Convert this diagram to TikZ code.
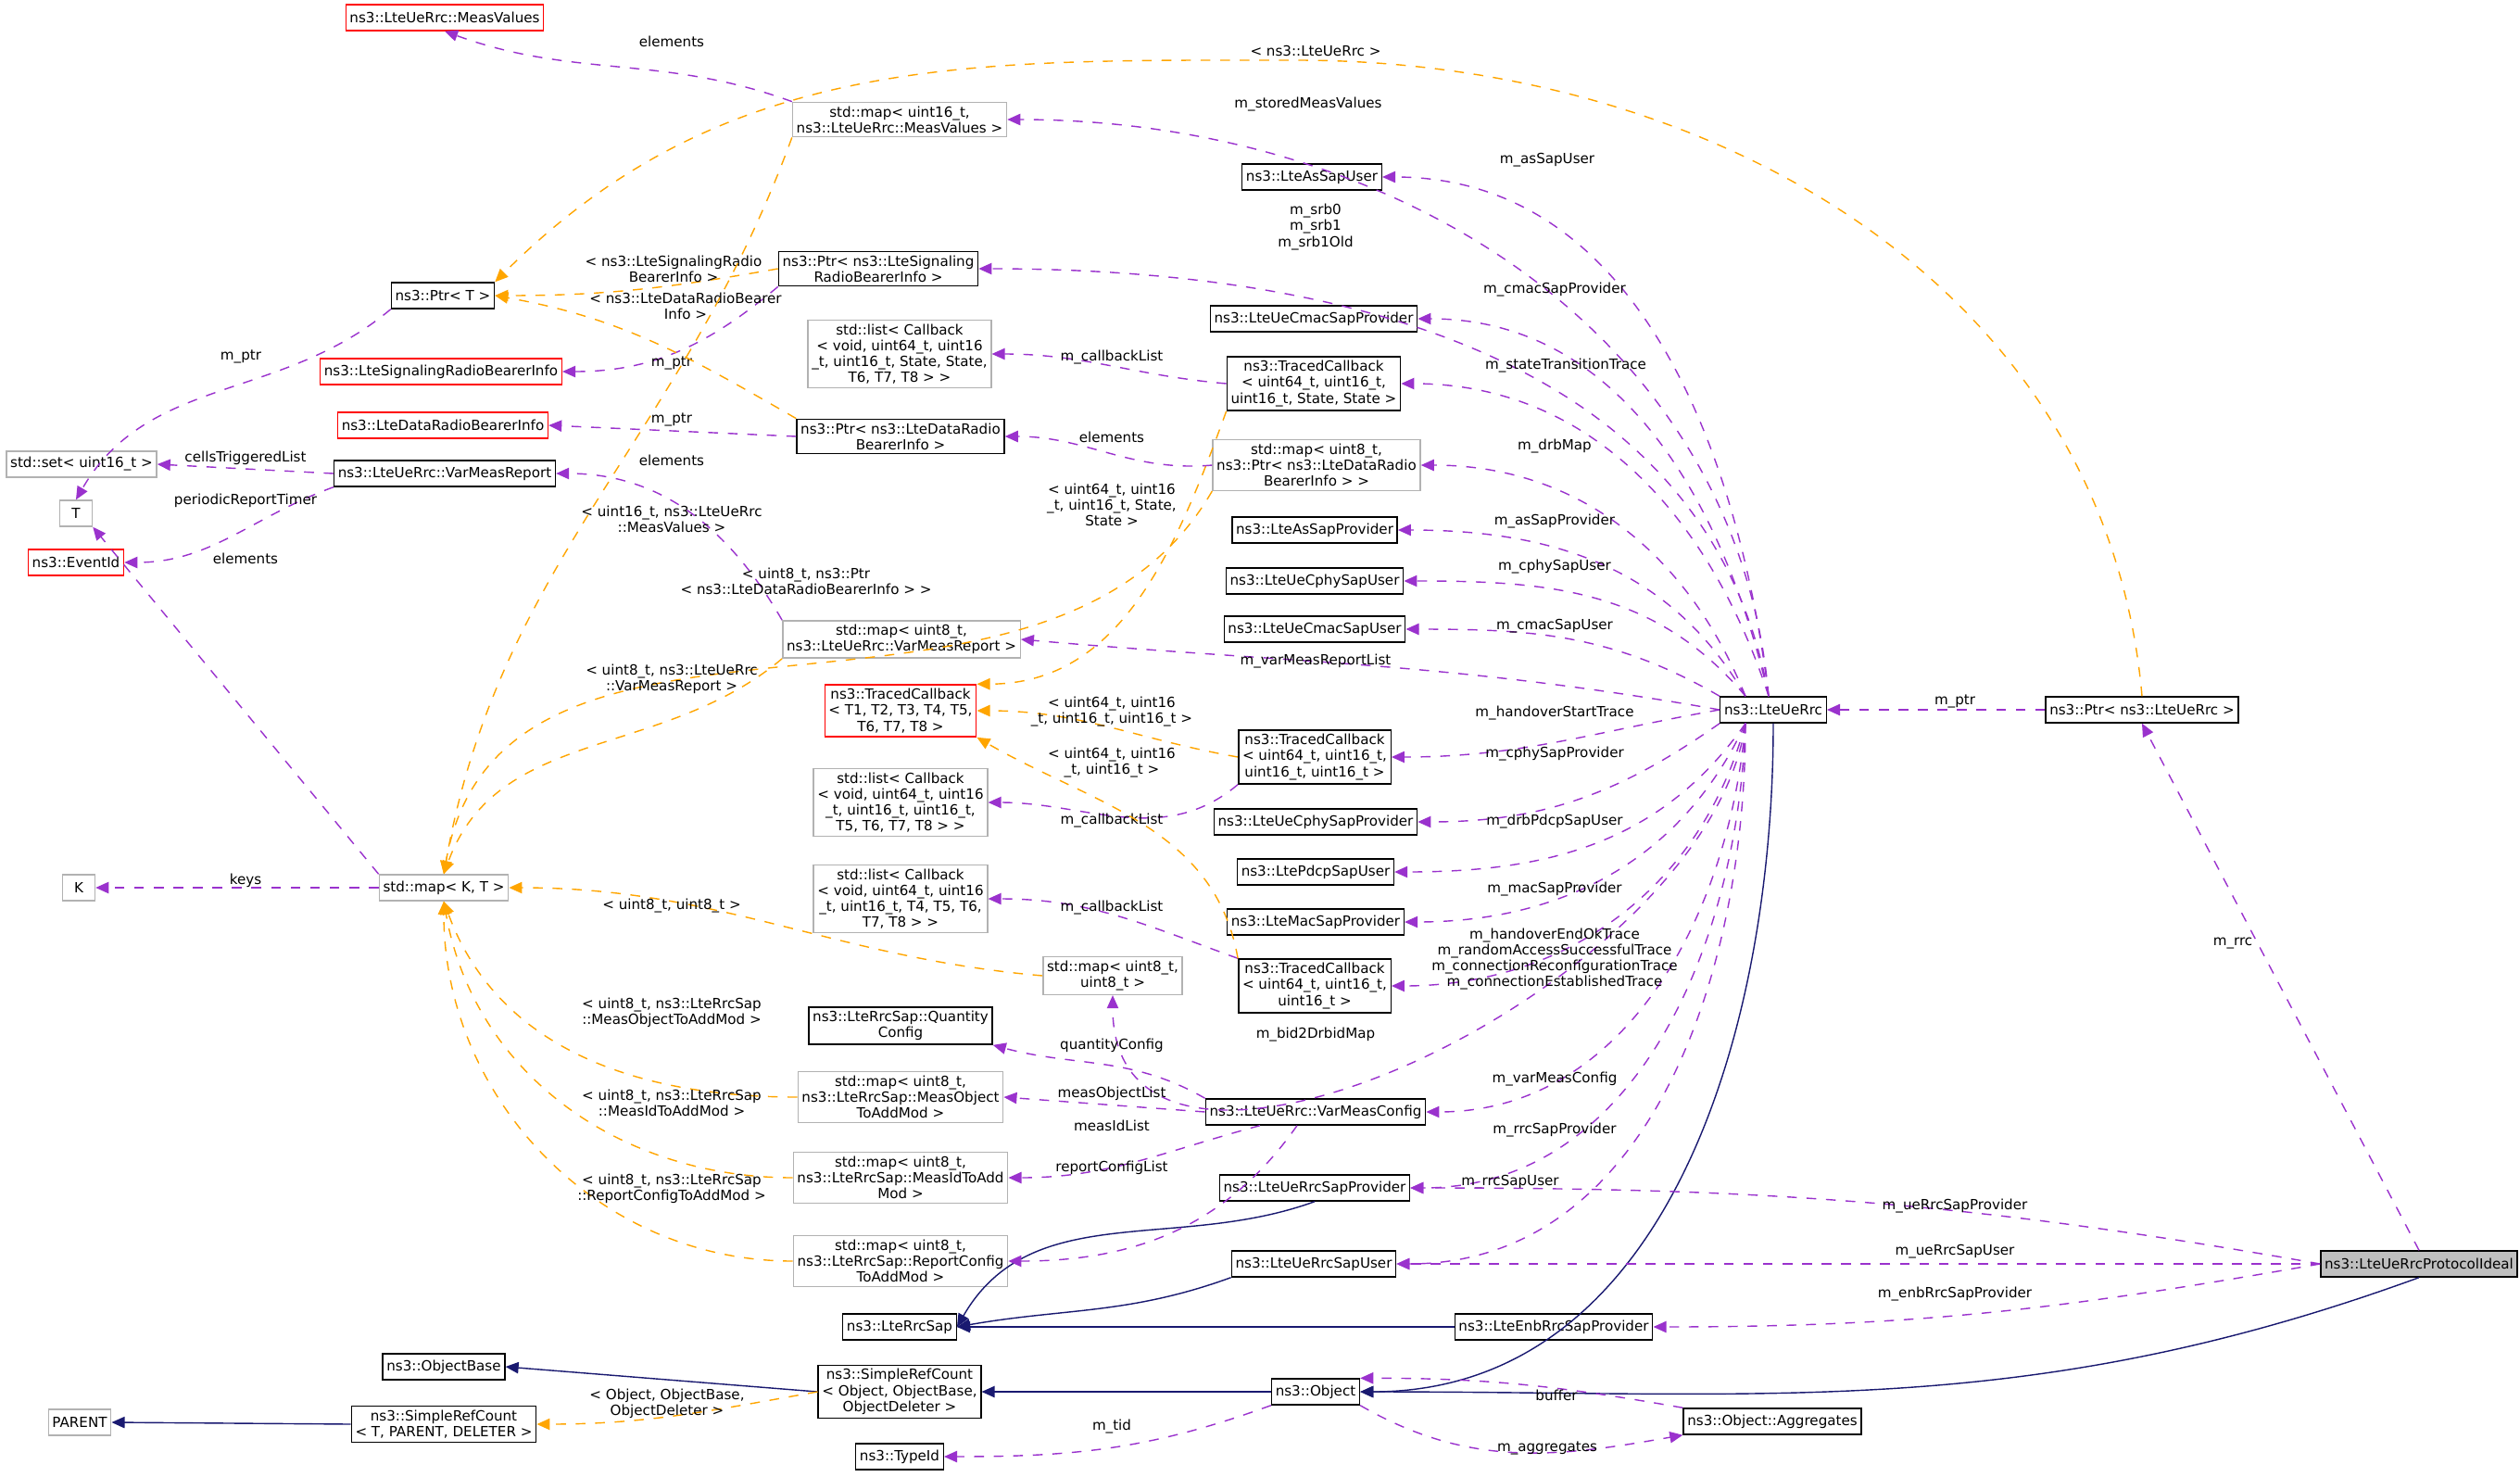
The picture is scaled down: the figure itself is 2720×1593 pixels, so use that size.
\documentclass[tikz,border=0pt]{standalone}
\usepackage{fontspec}
\setmainfont{DejaVu Sans}
\usetikzlibrary{arrows.meta}
\definecolor{usec}{HTML}{9A32CD}
\definecolor{tplc}{HTML}{FFA500}
\definecolor{inhc}{HTML}{191970}
\begin{document}
\begin{tikzpicture}[x=0.01cm,y=-0.01cm,
 every node/.style={font=\fontsize{4.3}{4.9}\selectfont,align=center,inner sep=1.2pt},
 bk/.style={draw=black,minimum height=0.28cm,fill=white},
 gr/.style={draw=black!30,minimum height=0.28cm,fill=white},
 rd/.style={draw=red,minimum height=0.28cm,fill=white},
 use/.style={draw=usec,dashed,-{Triangle[length=4pt,width=3.5pt]}},
 tpl/.style={draw=tplc,dashed,-{Triangle[length=4pt,width=3.5pt]}},
 inh/.style={draw=inhc,-{Triangle[length=4pt,width=3.5pt]}},
 lbl/.style={fill=none,inner sep=0pt}]
\useasboundingbox (0,0) rectangle (2720,1593);
% nodes
\node[rd] (mv) at (480,19) {ns3::LteUeRrc::MeasValues};
\node[gr] (mvmap) at (971,129) {std::map< uint16\_t,\\ ns3::LteUeRrc::MeasValues >};
\node[bk] (assu) at (1416,191) {ns3::LteAsSapUser};
\node[bk] (psig) at (948,290) {ns3::Ptr< ns3::LteSignaling\\RadioBearerInfo >};
\node[bk] (ptrt) at (478,319) {ns3::Ptr< T >};
\node[bk] (cmacp) at (1418,344) {ns3::LteUeCmacSapProvider};
\node[gr] (l7) at (971,382) {std::list< Callback\\< void, uint64\_t, uint16\\\_t, uint16\_t, State, State,\\T6, T7, T8 > >};
\node[bk] (tc8) at (1418,414) {ns3::TracedCallback\\< uint64\_t, uint16\_t,\\uint16\_t, State, State >};
\node[rd] (srb) at (476,401) {ns3::LteSignalingRadioBearerInfo};
\node[rd] (drb) at (478,459) {ns3::LteDataRadioBearerInfo};
\node[bk] (pdata) at (972,471) {ns3::Ptr< ns3::LteDataRadio\\BearerInfo >};
\node[gr] (drbmap) at (1421,502) {std::map< uint8\_t,\\ ns3::Ptr< ns3::LteDataRadio\\BearerInfo > >};
\node[gr] (set) at (88,501) {std::set< uint16\_t >};
\node[bk] (vmr) at (480,511) {ns3::LteUeRrc::VarMeasReport};
\node[gr,minimum width=0.35cm] (T) at (82,554) {T};
\node[rd] (ev) at (82,607) {ns3::EventId};
\node[bk] (asp) at (1419,572) {ns3::LteAsSapProvider};
\node[bk] (cphyu) at (1419,627) {ns3::LteUeCphySapUser};
\node[bk] (cmacu) at (1419,679) {ns3::LteUeCmacSapUser};
\node[gr] (vmrmap) at (973,690) {std::map< uint8\_t,\\ ns3::LteUeRrc::VarMeasReport >};
\node[rd] (tc21) at (972,767) {ns3::TracedCallback\\< T1, T2, T3, T4, T5,\\T6, T7, T8 >};
\node[bk] (rrc) at (1914,766) {ns3::LteUeRrc};
\node[bk] (prrc) at (2312,766) {ns3::Ptr< ns3::LteUeRrc >};
\node[bk] (tc24) at (1419,817) {ns3::TracedCallback\\< uint64\_t, uint16\_t,\\uint16\_t, uint16\_t >};
\node[gr] (l25) at (972,866) {std::list< Callback\\< void, uint64\_t, uint16\\\_t, uint16\_t, uint16\_t,\\T5, T6, T7, T8 > >};
\node[bk] (cphyp) at (1420,887) {ns3::LteUeCphySapProvider};
\node[gr,minimum width=0.35cm] (K) at (85,958) {K};
\node[gr] (mkt) at (479,958) {std::map< K, T >};
\node[bk] (pdcp) at (1420,941) {ns3::LtePdcpSapUser};
\node[gr] (l30) at (972,970) {std::list< Callback\\< void, uint64\_t, uint16\\\_t, uint16\_t, T4, T5, T6,\\T7, T8 > >};
\node[bk] (macp) at (1420,995) {ns3::LteMacSapProvider};
\node[gr] (m32) at (1201,1053) {std::map< uint8\_t,\\uint8\_t >};
\node[bk] (tc33) at (1419,1064) {ns3::TracedCallback\\< uint64\_t, uint16\_t,\\uint16\_t >};
\node[bk] (qc) at (972,1107) {ns3::LteRrcSap::Quantity\\Config};
\node[gr] (mom) at (972,1184) {std::map< uint8\_t,\\ ns3::LteRrcSap::MeasObject\\ToAddMod >};
\node[bk] (vmc) at (1420,1200) {ns3::LteUeRrc::VarMeasConfig};
\node[gr] (mim) at (972,1271) {std::map< uint8\_t,\\ ns3::LteRrcSap::MeasIdToAdd\\Mod >};
\node[bk] (ursp) at (1419,1282) {ns3::LteUeRrcSapProvider};
\node[gr] (rcm) at (972,1361) {std::map< uint8\_t,\\ ns3::LteRrcSap::ReportConfig\\ToAddMod >};
\node[bk] (ursu) at (1418,1364) {ns3::LteUeRrcSapUser};
\node[bk,fill=black!25] (pi) at (2611,1364) {ns3::LteUeRrcProtocolIdeal};
\node[bk] (rsap) at (971,1432) {ns3::LteRrcSap};
\node[bk] (ersp) at (1677,1432) {ns3::LteEnbRrcSapProvider};
\node[bk] (ob) at (479,1475) {ns3::ObjectBase};
\node[bk] (src) at (971,1502) {ns3::SimpleRefCount\\< Object, ObjectBase,\\ObjectDeleter >};
\node[gr] (par) at (86,1535) {PARENT};
\node[bk] (srt) at (479,1537) {ns3::SimpleRefCount\\< T, PARENT, DELETER >};
\node[bk] (obj) at (1420,1502) {ns3::Object};
\node[bk] (agg) at (1913,1534) {ns3::Object::Aggregates};
\node[bk] (tid) at (971,1572) {ns3::TypeId};
% usage edges from LteUeRrc
\coordinate (ra) at ([xshift=-0.05cm]rrc.north);
\coordinate (rb) at ([xshift=-0.3cm]rrc.north);
\coordinate (rc) at ([xshift=-0.3cm]rrc.south);
\draw[use] (ra) to[out=95,in=0] (mvmap.east);
\draw[use] (ra) to[out=97,in=0] (assu.east);
\draw[use] (ra) to[out=100,in=0] (psig.east);
\draw[use] (ra) to[out=103,in=0] (cmacp.east);
\draw[use] (ra) to[out=108,in=0] (tc8.east);
\draw[use] (rb) to[out=112,in=0] (drbmap.east);
\draw[use] (rb) to[out=120,in=0] (asp.east);
\draw[use] (rb) to[out=130,in=0] (cphyu.east);
\draw[use] (rrc.north west) to[out=150,in=0] (cmacu.east);
\draw[use] (rrc.west) to[out=170,in=-5] (vmrmap.east);
\draw[use] (rrc.west) to[out=190,in=0] (tc24.east);
\draw[use] (rrc.south west) to[out=215,in=0] (cphyp.east);
\draw[use] (rc) to[out=235,in=0] (pdcp.east);
\draw[use] (rc) to[out=245,in=0] (macp.east);
\draw[use] (rc) to[out=255,in=0] (tc33.east);
\draw[use] (rc) to[out=262,in=-90] (m32.south);
\draw[use] (rc) to[out=265,in=0] (vmc.east);
\draw[use] (rc) to[out=268,in=0] (ursp.east);
\draw[use] (rc) to[out=270,in=0] (ursu.east);
\draw[inh] (rrc.south) to[out=270,in=0] (obj.east);
\node[lbl] (l1) at (1412,113) {m\_storedMeasValues};
\node[lbl] (l2) at (1670,173) {m\_asSapUser};
\node[lbl] (l3) at (1420,245) {m\_srb0\\m\_srb1\\m\_srb1Old};
\node[lbl] (l4) at (1678,313) {m\_cmacSapProvider};
\node[lbl] (l5) at (1690,395) {m\_stateTransitionTrace};
\node[lbl] (l6) at (1678,482) {m\_drbMap};
\node[lbl] (l7a) at (1678,563) {m\_asSapProvider};
\node[lbl] (l8) at (1678,612) {m\_cphySapUser};
\node[lbl] (l9) at (1678,676) {m\_cmacSapUser};
\node[lbl] (l10) at (1420,714) {m\_varMeasReportList};
\node[lbl] (l11) at (1678,770) {m\_handoverStartTrace};
\node[lbl] (l12) at (1678,814) {m\_cphySapProvider};
\node[lbl] (l13) at (1678,887) {m\_drbPdcpSapUser};
\node[lbl] (l14) at (1678,960) {m\_macSapProvider};
\node[lbl] (l15) at (1678,1035) {m\_handoverEndOkTrace\\m\_randomAccessSuccessfulTrace\\m\_connectionReconfigurationTrace\\m\_connectionEstablishedTrace};
\node[lbl] (l16) at (1420,1117) {m\_bid2DrbidMap};
\node[lbl] (l17) at (1678,1165) {m\_varMeasConfig};
\node[lbl] (l18) at (1678,1220) {m\_rrcSapProvider};
\node[lbl] (l19) at (1630,1276) {m\_rrcSapUser};
% protocol ideal
\draw[use] (prrc) -- (rrc);
\node[lbl] (l20) at (2110,757) {m\_ptr};
\draw[use] (pi.north) -- (prrc.south);
\node[lbl] (l21) at (2410,1018) {m\_rrc};
\draw[use] (pi.west) to[out=170,in=0] (ursp.east);
\node[lbl] (l22) at (2110,1302) {m\_ueRrcSapProvider};
\draw[use] (pi.west) -- (ursu.east);
\node[lbl] (l23) at (2110,1351) {m\_ueRrcSapUser};
\draw[use] (pi.west) to[out=190,in=0] (ersp.east);
\node[lbl] (l24) at (2110,1397) {m\_enbRrcSapProvider};
\draw[inh] (pi.south) to[out=200,in=0] (obj.east);
% inheritance
\draw[inh] (ursp.south) to[out=200,in=60] (rsap.east);
\draw[inh] (ursu.south west) to[out=200,in=10] (rsap.east);
\draw[inh] (ersp.west) -- (rsap.east);
\draw[inh] (src.west) -- (ob.east);
\draw[inh] (srt.west) -- (par.east);
\draw[inh] (obj.west) -- (src.east);
\draw[tpl] (src.west) to[out=190,in=0] (srt.east);
\node[lbl] (l25a) at (720,1515) {< Object, ObjectBase,\\ObjectDeleter >};
\draw[use] (obj.south west) to[out=200,in=0] (tid.east);
\node[lbl] (l26) at (1200,1540) {m\_tid};
\draw[use] (obj.south east) to[out=-30,in=190] (agg.south west);
\node[lbl] (l27) at (1670,1563) {m\_aggregates};
\draw[use] (agg.north west) to[out=170,in=0] (obj.north east);
\node[lbl] (l28) at (1680,1506) {buffer};
% VarMeasConfig
\draw[use] (vmc.north west) to[out=150,in=-15] (qc.south east);
\node[lbl] (l29) at (1200,1128) {quantityConfig};
\draw[use] (vmc.west) -- (mom.east);
\node[lbl] (l30a) at (1200,1180) {measObjectList};
\draw[use] ([xshift=-0.6cm]vmc.south) to[out=195,in=0] (mim.east);
\node[lbl] (l31) at (1200,1215) {measIdList};
\draw[use] ([xshift=-0.2cm]vmc.south) to[out=235,in=0] (rcm.east);
\node[lbl] (l32) at (1200,1260) {reportConfigList};
% traced callbacks
\draw[use] (tc33.north west) to[out=160,in=0] (l30.east);
\node[lbl] (l33) at (1200,980) {m\_callbackList};
\draw[use] (tc24.south west) to[out=220,in=0] (l25.east);
\node[lbl] (l34) at (1200,886) {m\_callbackList};
\draw[use] (tc8.west) to[out=175,in=0] (l7.east);
\node[lbl] (l35) at (1200,386) {m\_callbackList};
\draw[tpl] (tc8.south west) to[out=250,in=0] (tc21.north east);
\node[lbl] (l36) at (1200,545) {< uint64\_t, uint16\\\_t, uint16\_t, State,\\State >};
\draw[tpl] (tc24.west) to[out=170,in=0] (tc21.east);
\node[lbl] (l37) at (1200,768) {< uint64\_t, uint16\\\_t, uint16\_t, uint16\_t >};
\draw[tpl] (tc33.north west) to[out=100,in=-30] (tc21.south east);
\node[lbl] (l38) at (1200,823) {< uint64\_t, uint16\\\_t, uint16\_t >};
% pointers
\draw[use] (drbmap.west) to[out=185,in=0] (pdata.east);
\node[lbl] (l39) at (1200,472) {elements};
\draw[use] (pdata.west) -- (drb.east);
\node[lbl] (l40) at (725,453) {m\_ptr};
\draw[use] (psig.south west) to[out=220,in=0] (srb.east);
\node[lbl] (l41) at (725,392) {m\_ptr};
\draw[use] (ptrt.south west) to[out=220,in=60] (T.north);
\node[lbl] (l42) at (260,385) {m\_ptr};
\draw[use] (vmr.west) -- (set.east);
\node[lbl] (l43) at (265,494) {cellsTriggeredList};
\draw[use] (vmr.south west) to[out=200,in=0] (ev.east);
\node[lbl] (l44) at (265,540) {periodicReportTimer};
\draw[use] (vmrmap.north west) to[out=120,in=0] (vmr.east);
\node[lbl] (l45) at (725,497) {elements};
\draw[use] (mkt.north west) -- (T.south east);
\node[lbl] (l46) at (265,603) {elements};
\draw[use] (mkt.west) -- (K.east);
\node[lbl] (l47) at (265,950) {keys};
\draw[use] (mvmap.north west) to[out=160,in=-20] (mv.south);
\node[lbl] (l48) at (725,45) {elements};
% templates
\draw[tpl] (psig.west) to[out=190,in=0] (ptrt.east);
\node[lbl] (l49) at (727,290) {< ns3::LteSignalingRadio\\BearerInfo >};
\draw[tpl] (pdata.north west) to[out=150,in=-10] (ptrt.east);
\node[lbl] (l50) at (740,330) {< ns3::LteDataRadioBearer\\Info >};
\draw[tpl] (prrc.north) to[out=95,in=0] (1400,65) to[out=180,in=45] (ptrt.north east);
\node[lbl] (l51) at (1420,55) {< ns3::LteUeRrc >};
\draw[tpl] (mvmap.south west) to[out=250,in=80] (mkt.north);
\node[lbl] (l52) at (725,560) {< uint16\_t, ns3::LteUeRrc\\::MeasValues >};
\draw[tpl] (drbmap.south west) to[out=240,in=80] (mkt.north);
\node[lbl] (l53) at (870,627) {< uint8\_t, ns3::Ptr\\< ns3::LteDataRadioBearerInfo > >};
\draw[tpl] (vmrmap.south west) to[out=220,in=70] (mkt.north);
\node[lbl] (l54) at (725,733) {< uint8\_t, ns3::LteUeRrc\\::VarMeasReport >};
\draw[tpl] (m32.west) to[out=175,in=0] (mkt.east);
\node[lbl] (l55) at (725,978) {< uint8\_t, uint8\_t >};
\draw[tpl] (mom.west) to[out=180,in=-70] (mkt.south);
\node[lbl] (l56) at (725,1093) {< uint8\_t, ns3::LteRrcSap\\::MeasObjectToAddMod >};
\draw[tpl] (mim.west) to[out=180,in=-80] (mkt.south);
\node[lbl] (l57) at (725,1190) {< uint8\_t, ns3::LteRrcSap\\::MeasIdToAddMod >};
\draw[tpl] (rcm.west) to[out=180,in=-90] (mkt.south);
\node[lbl] (l58) at (725,1283) {< uint8\_t, ns3::LteRrcSap\\::ReportConfigToAddMod >};
\end{tikzpicture}
\end{document}
